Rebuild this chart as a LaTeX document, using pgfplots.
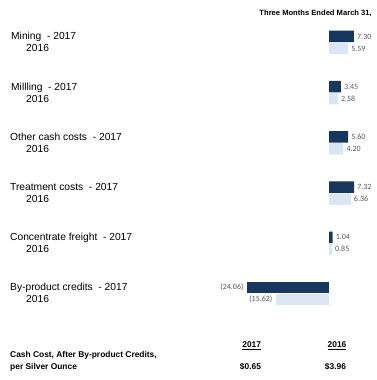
\documentclass[border=0pt]{standalone}
\usepackage{fontspec}
\setmainfont{Liberation Sans}
\newfontfamily\labfont{Carlito}
\usepackage{pgfplots}
\pgfplotsset{compat=1.18}
\definecolor{darkbar}{HTML}{17375E}
\definecolor{lightbar}{HTML}{DCE6F2}
\definecolor{valgray}{HTML}{595959}
\begin{document}
\begin{tikzpicture}
\begin{axis}[
  width=376pt, height=380pt, scale only axis,
  xmin=-96.2, xmax=13.74, ymin=-380, ymax=0,
  hide axis, clip=false,
  xbar, bar width=11.5pt, bar shift=0pt,
  point meta=explicit symbolic,
  nodes near coords,
  every node near coord/.append style={font=\labfont\fontsize{8}{9}\selectfont, text=valgray, inner xsep=3pt, inner ysep=1pt, anchor=west},
]
\addplot[draw=none, fill=darkbar] coordinates {
  (7.30,-36.5) [7.30]
  (3.45,-86.7) [3.45]
  (5.60,-136.9) [5.60]
  (7.32,-187.1) [7.32]
  (1.04,-237.3) [1.04]
};
\addplot[draw=none, fill=lightbar] coordinates {
  (5.59,-48.5) [5.59]
  (2.58,-98.7) [2.58]
  (4.20,-148.9) [4.20]
  (6.36,-199.1) [6.36]
  (0.85,-249.3) [0.85]
};
\addplot[draw=none, fill=darkbar, every node near coord/.append style={anchor=east}] coordinates {
  (-24.06,-287.5) [(24.06)]
};
\addplot[draw=none, fill=lightbar, every node near coord/.append style={anchor=east}] coordinates {
  (-15.62,-299.5) [(15.62)]
};
\coordinate (tl) at (rel axis cs:0,1);
\path (rel axis cs:0,0) rectangle (rel axis cs:1,1);
\end{axis}
\begin{scope}[every node/.style={inner sep=0pt, font=\fontsize{10.25}{12}\selectfont}]
\node[anchor=base west] at ([shift={(11pt,-40pt)}]tl) {Mining\ \ - 2017};
\node[anchor=base west] at ([shift={(26pt,-52pt)}]tl) {2016};
\node[anchor=base west] at ([shift={(11pt,-90.2pt)}]tl) {Millling\ \ - 2017};
\node[anchor=base west] at ([shift={(26pt,-102.2pt)}]tl) {2016};
\node[anchor=base west] at ([shift={(10pt,-140.4pt)}]tl) {Other cash costs\ \ - 2017};
\node[anchor=base west] at ([shift={(26pt,-152.4pt)}]tl) {2016};
\node[anchor=base west] at ([shift={(10pt,-190.6pt)}]tl) {Treatment costs\ \ - 2017};
\node[anchor=base west] at ([shift={(26pt,-202.6pt)}]tl) {2016};
\node[anchor=base west] at ([shift={(10pt,-240.8pt)}]tl) {Concentrate freight\ \ - 2017};
\node[anchor=base west] at ([shift={(26pt,-252.8pt)}]tl) {2016};
\node[anchor=base west] at ([shift={(10pt,-291pt)}]tl) {By-product credits\ \ - 2017};
\node[anchor=base west] at ([shift={(26pt,-303pt)}]tl) {2016};
\end{scope}
\begin{scope}[every node/.style={inner sep=0pt, font=\bfseries\fontsize{7.6}{9}\selectfont}]
\node[anchor=base east] at ([shift={(372pt,-16pt)}]tl) {Three Months Ended March 31,};
\end{scope}
\begin{scope}[every node/.style={inner sep=0pt, font=\bfseries\fontsize{8.4}{10}\selectfont}]
\node[anchor=base west] at ([shift={(10pt,-358pt)}]tl) {Cash Cost, After By-product Credits,};
\node[anchor=base west] at ([shift={(10pt,-369.7pt)}]tl) {per Silver Ounce};
\node[anchor=base] at ([shift={(251.7pt,-347.3pt)}]tl) {\underline{2017}};
\node[anchor=base] at ([shift={(337pt,-347.3pt)}]tl) {\underline{2016}};
\node[anchor=base] at ([shift={(250.5pt,-369.7pt)}]tl) {\$0.65};
\node[anchor=base] at ([shift={(335.5pt,-369.7pt)}]tl) {\$3.96};
\end{scope}
\end{tikzpicture}
\end{document}
